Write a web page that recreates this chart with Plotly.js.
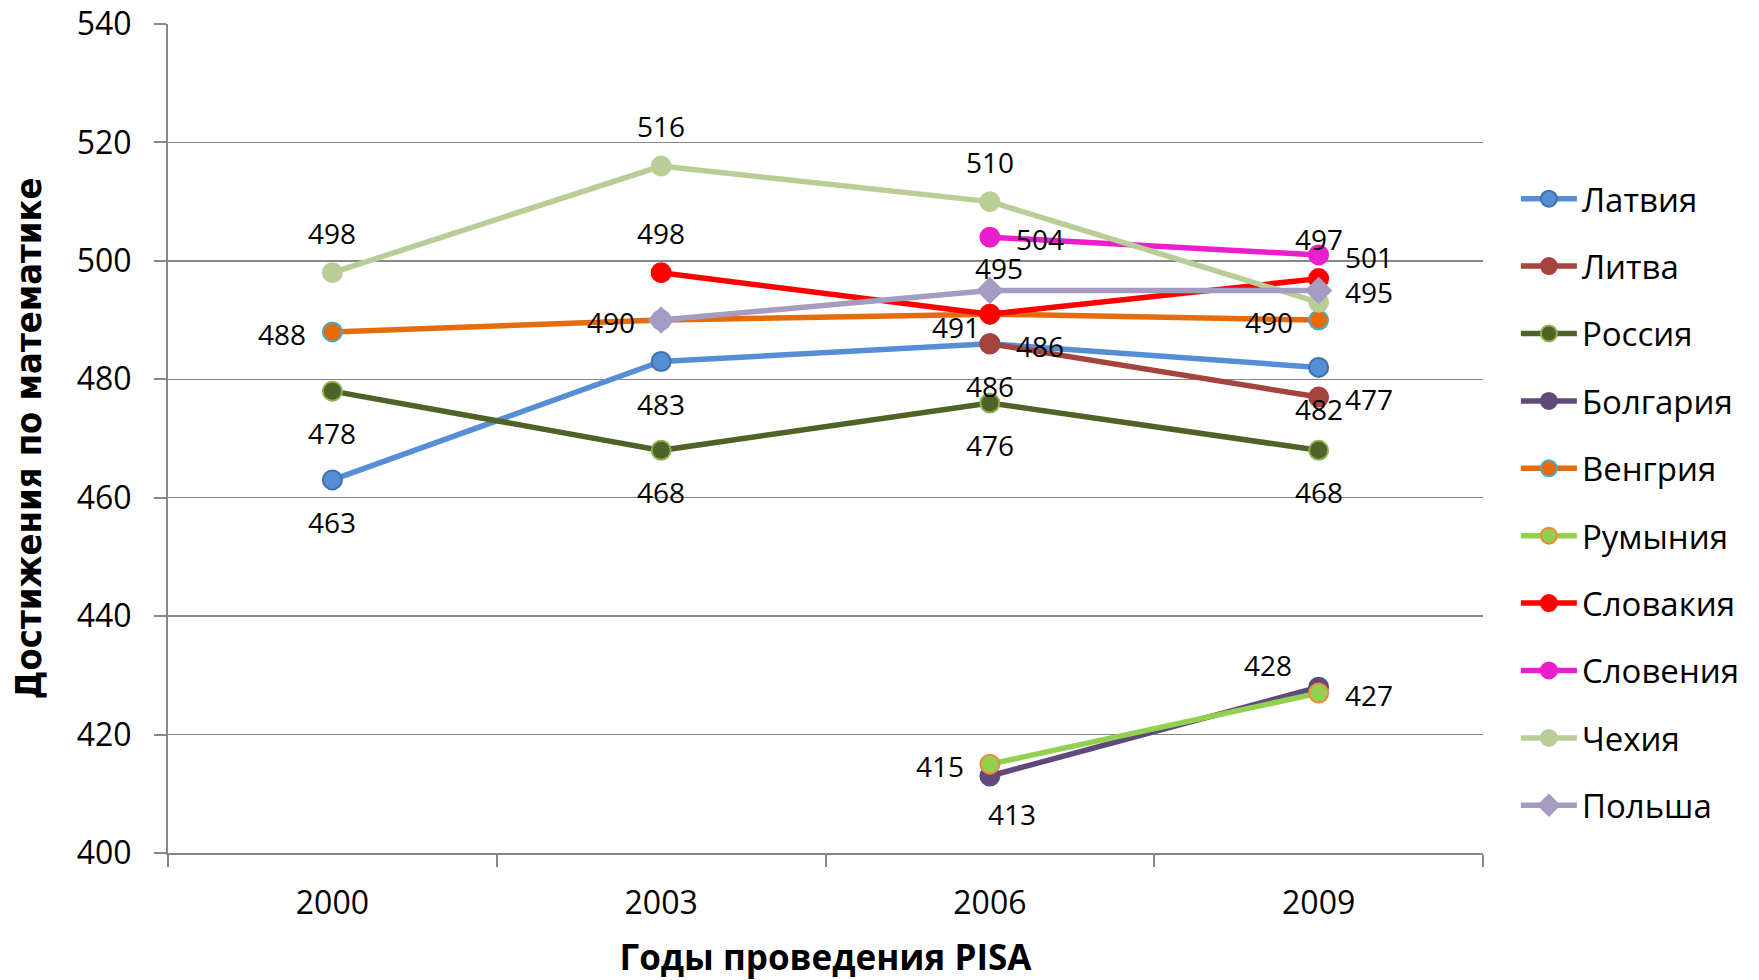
<!DOCTYPE html>
<html>
<head>
<meta charset="utf-8">
<script src="https://cdn.plot.ly/plotly-3.0.1.min.js"></script>
<style>
html,body{margin:0;padding:0;background:#fff;}
#chart{width:1759px;height:980px;}
</style>
</head>
<body>
<div id="chart"></div>
<script>
// ---------- DATA ----------
const years = ["2000", "2003", "2006", "2009"];
const seriesNames = ["Латвия", "Литва", "Россия", "Болгария", "Венгрия", "Румыния", "Словакия", "Словения", "Чехия", "Польша"];
const latvia    = [463, 483, 486, 482];
const lithuania = [null, null, 486, 477];
const russia    = [478, 468, 476, 468];
const bulgaria  = [null, null, 413, 428];
const hungary   = [488, 490, 491, 490];
const romania   = [null, null, 415, 427];
const slovakia  = [null, 498, 491, 497];
const slovenia  = [null, null, 504, 501];
const czech     = [498, 516, 510, 493];
const poland    = [null, 490, 495, 495];
const yTickVals = [400, 420, 440, 460, 480, 500, 520, 540];
const xTitle = "Годы проведения PISA";
const yTitle = "Достижения по математике";

// ---------- STYLES ----------
const seriesValues = [latvia, lithuania, russia, bulgaria, hungary, romania, slovakia, slovenia, czech, poland];
const lineColors   = ["#558ED5", "#A5433F", "#4F6228", "#604A7B", "#E46C0A", "#92D050", "#FF0000", "#EB1DCE", "#B9CE97", "#A69BC0"];
const markerFill   = ["#558ED5", "#A5433F", "#4F6228", "#604A7B", "#E46C0A", "#92D050", "#FF0000", "#EB1DCE", "#B9CE97", "#A69BC0"];
const markerLine   = ["#3F70B0", "#A5433F", "#8DB04E", "#604A7B", "#4BACC6", "#F08A3A", "#FF0000", "#EB1DCE", "#B9CE97", "#A69BC0"];
const symbols      = ["circle","circle","circle","circle","circle","circle","circle","circle","circle","diamond"];
// label placement offsets in px (dx right, dy down)
const P = {above:[0,-40], below:[0,42], left:[-50,2], right:[50,2]};
const labelPos = [
  [P.below, P.below, P.below, P.below],
  [null, null, P.right, P.right],
  [P.below, P.below, P.below, P.below],
  [null, null, [22,38], [-51,-22]],
  [P.left, P.left, [-34,13], P.left],
  [null, null, P.left, P.right],
  [null, P.above, null, P.above],
  [null, null, P.right, P.right],
  [P.above, P.above, P.above, null],
  [null, null, [9,-22], P.right]
];

const traces = seriesNames.map((name, i) => ({
  type: "scatter",
  mode: "lines+markers",
  name: name,
  legendgroup: name,
  x: years,
  y: seriesValues[i],
  line: {color: lineColors[i], width: 5.5},
  marker: {symbol: symbols[i], size: 19, color: markerFill[i], line: {color: markerLine[i], width: 2}},
  hoverinfo: "skip"
}));

const annotations = [];
seriesValues.forEach((vals, i) => {
  vals.forEach((v, j) => {
    const pos = labelPos[i][j];
    if (v === null || !pos) return;
    annotations.push({
      x: j, y: v, xref: "x", yref: "y",
      text: String(v), showarrow: false,
      xanchor: "center", yanchor: "middle",
      xshift: pos[0], yshift: -pos[1],
      font: {family: "Open Sans", size: 28, color: "#000"}
    });
  });
});

const layout = {
  width: 1759, height: 980,
  margin: {l: 168, r: 276, t: 24, b: 127},
  paper_bgcolor: "#fff", plot_bgcolor: "#fff",
  font: {family: "Open Sans", color: "#000"},
  showlegend: true,
  legend: {
    x: 1.025, xanchor: "left", y: 0.823, yanchor: "top",
    font: {family: "Open Sans", size: 33, color: "#000"},
    traceorder: "grouped", tracegroupgap: 21.5,
    itemwidth: 56, bgcolor: "rgba(0,0,0,0)"
  },
  xaxis: {
    type: "category", categoryorder: "array", categoryarray: years,
    range: [-0.5, 3.5],
    showline: true, linecolor: "#878787", linewidth: 2,
    showgrid: false, zeroline: false,
    ticks: "outside", tickson: "boundaries", ticklen: 12, tickwidth: 2, tickcolor: "#878787",
    tickfont: {family: "Open Sans", size: 32, color: "#000"},
    ticklabelstandoff: 21,
    title: {text: xTitle, font: {family: "Open Sans", size: 35, color: "#000", weight: "bold"}, standoff: 27}
  },
  yaxis: {
    range: [400, 540], tickvals: yTickVals,
    showline: true, linecolor: "#878787", linewidth: 2,
    showgrid: true, gridcolor: "#878787", gridwidth: 1.5, zeroline: false,
    ticks: "outside", ticklen: 12, tickwidth: 2, tickcolor: "#878787",
    tickfont: {family: "Open Sans", size: 32, color: "#000"},
    ticklabelstandoff: 16,
    title: {text: yTitle, font: {family: "Liberation Sans Narrow, DejaVu Sans Condensed, sans-serif", size: 36, color: "#000", weight: "bold"}, standoff: 24}
  },
  annotations: annotations
};

Plotly.newPlot("chart", traces, layout, {staticPlot: true, displayModeBar: false});
</script>
</body>
</html>
